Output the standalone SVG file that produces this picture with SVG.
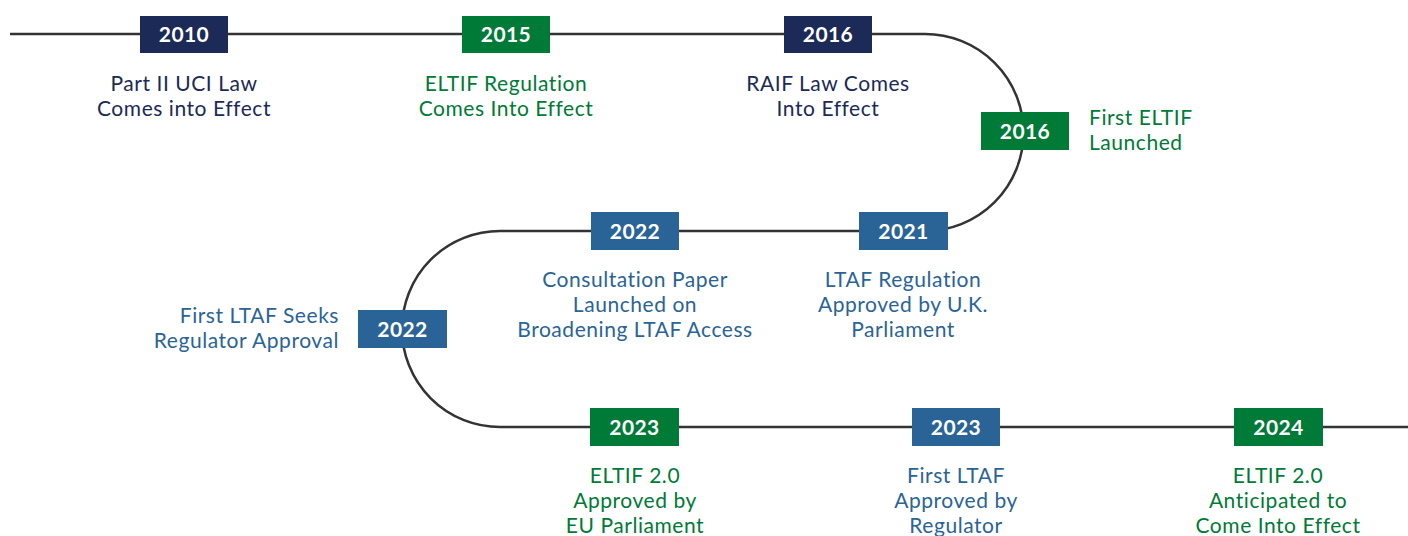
<svg xmlns="http://www.w3.org/2000/svg" width="1408" height="536" viewBox="0 0 1408 536">
<style>
.line{fill:none;stroke:#333333;stroke-width:2.5}
.yr{font-family:Lato,"Open Sans",sans-serif;font-weight:bold;font-size:21px;fill:#ffffff;text-anchor:middle;letter-spacing:0.4px}
.lbl{font-family:Lato,"Open Sans",sans-serif;font-size:21px;letter-spacing:0.55px}
.mid{text-anchor:middle}.start{text-anchor:start}.end{text-anchor:end}
.navy{fill:#1B2A56}.green{fill:#007A37}.blue{fill:#2A6496}
</style>
<rect width="1408" height="536" fill="#ffffff"/>
<g id="connectors">
<path class="line" d="M10,34 H925 A98.5,98.5 0 0 1 925,231 H500 A98,98 0 0 0 500,427 H1408"/>
</g>
<g id="n2010"><rect class="navy" x="140" y="16" width="88" height="37"/><text class="yr" x="184" y="41.5">2010</text>
<text class="lbl mid navy" x="184" y="91">Part II UCI Law</text><text class="lbl mid navy" x="184" y="116">Comes into Effect</text></g>
<g id="n2015"><rect class="green" x="462" y="16" width="88" height="37"/><text class="yr" x="506" y="41.5">2015</text>
<text class="lbl mid green" x="506" y="91">ELTIF Regulation</text><text class="lbl mid green" x="506" y="116">Comes Into Effect</text></g>
<g id="n2016a"><rect class="navy" x="784" y="16" width="88" height="37"/><text class="yr" x="828" y="41.5">2016</text>
<text class="lbl mid navy" x="828" y="91">RAIF Law Comes</text><text class="lbl mid navy" x="828" y="116">Into Effect</text></g>
<g id="n2016b"><rect class="green" x="981" y="112" width="88" height="38"/><text class="yr" x="1025" y="138.5">2016</text>
<text class="lbl start green" x="1089" y="125">First ELTIF</text><text class="lbl start green" x="1089" y="150">Launched</text></g>
<g id="n2021"><rect class="blue" x="859" y="212" width="89" height="38"/><text class="yr" x="903.5" y="238.5">2021</text>
<text class="lbl mid blue" x="903" y="287">LTAF Regulation</text><text class="lbl mid blue" x="903" y="312">Approved by U.K.</text><text class="lbl mid blue" x="903" y="337">Parliament</text></g>
<g id="n2022a"><rect class="blue" x="591" y="212" width="88" height="38"/><text class="yr" x="635" y="238.5">2022</text>
<text class="lbl mid blue" x="635" y="287">Consultation Paper</text><text class="lbl mid blue" x="635" y="312">Launched on</text><text class="lbl mid blue" x="635" y="337">Broadening LTAF Access</text></g>
<g id="n2022b"><rect class="blue" x="358" y="310" width="89" height="38"/><text class="yr" x="402.5" y="336.5">2022</text>
<text class="lbl end blue" x="339" y="323">First LTAF Seeks</text><text class="lbl end blue" x="339" y="348">Regulator Approval</text></g>
<g id="n2023a"><rect class="green" x="590" y="408" width="89" height="38"/><text class="yr" x="634.5" y="434.5">2023</text>
<text class="lbl mid green" x="635" y="483">ELTIF 2.0</text><text class="lbl mid green" x="635" y="508">Approved by</text><text class="lbl mid green" x="635" y="533">EU Parliament</text></g>
<g id="n2023b"><rect class="blue" x="912" y="408" width="88" height="38"/><text class="yr" x="956" y="434.5">2023</text>
<text class="lbl mid blue" x="956" y="483">First LTAF</text><text class="lbl mid blue" x="956" y="508">Approved by</text><text class="lbl mid blue" x="956" y="533">Regulator</text></g>
<g id="n2024"><rect class="green" x="1234" y="408" width="89" height="38"/><text class="yr" x="1278.5" y="434.5">2024</text>
<text class="lbl mid green" x="1278" y="483">ELTIF 2.0</text><text class="lbl mid green" x="1278" y="508">Anticipated to</text><text class="lbl mid green" x="1278" y="533">Come Into Effect</text></g>
</svg>
